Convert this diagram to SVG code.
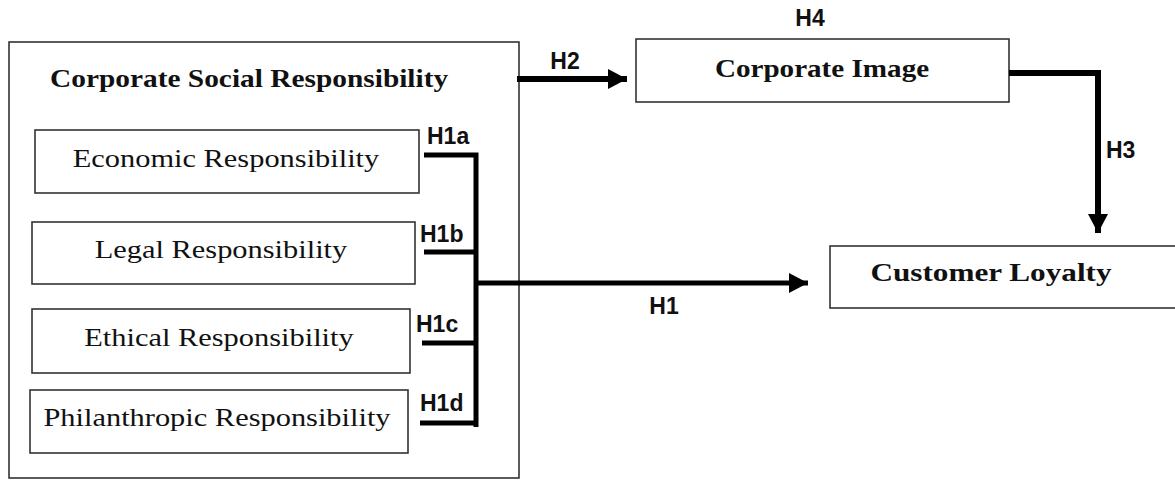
<svg xmlns="http://www.w3.org/2000/svg" width="1175" height="481" viewBox="0 0 1175 481">
<style>
.box{fill:#fff;stroke:#333;stroke-width:1.6}
.serif{font-family:"Liberation Serif","Times New Roman",serif;fill:#111;font-size:26px}
.b{font-weight:bold}
.lbl{font-family:"Liberation Sans",Arial,sans-serif;font-weight:bold;font-size:23px;fill:#111}
.thick{stroke:#000;stroke-width:5;fill:none}
</style>
<defs>
<marker id="ah" markerUnits="userSpaceOnUse" markerWidth="20" markerHeight="20" viewBox="0 0 20 20" refX="19" refY="10" orient="auto">
<path d="M0,0 L19,10 L0,20 Z" fill="#000"/>
</marker>
</defs>
<rect width="1175" height="481" fill="#fff"/>
<g id="csr">
<rect class="box" x="9" y="42" width="510" height="436"/>
<text class="serif b" transform="translate(50,87) scale(1.13,1)">Corporate Social Responsibility</text>
</g>
<g id="economic">
<rect class="box" x="35" y="130" width="384" height="63"/>
<text class="serif" transform="translate(226,167) scale(1.17,1)" text-anchor="middle">Economic Responsibility</text>
</g>
<g id="legal">
<rect class="box" x="32" y="222" width="383" height="62"/>
<text class="serif" transform="translate(221,258) scale(1.17,1)" text-anchor="middle">Legal Responsibility</text>
</g>
<g id="ethical">
<rect class="box" x="32" y="309" width="378" height="64"/>
<text class="serif" transform="translate(219,346) scale(1.17,1)" text-anchor="middle">Ethical Responsibility</text>
</g>
<g id="philanthropic">
<rect class="box" x="30" y="390" width="378" height="63"/>
<text class="serif" transform="translate(217,426) scale(1.17,1)" text-anchor="middle">Philanthropic Responsibility</text>
</g>
<g id="corporate-image">
<rect class="box" x="636" y="39" width="373" height="63"/>
<text class="serif b" transform="translate(822,77) scale(1.12,1)" text-anchor="middle">Corporate Image</text>
</g>
<g id="customer-loyalty">
<rect class="box" x="830" y="246" width="360" height="62"/>
<text class="serif b" transform="translate(991,281) scale(1.2,1)" text-anchor="middle">Customer Loyalty</text>
</g>
<g id="connectors">
<path class="thick" d="M424,155 H476 V427"/>
<path class="thick" d="M424,252 H476"/>
<path class="thick" d="M422,343 H476"/>
<path class="thick" d="M420,423 H476"/>
<path d="M476,283 H808" stroke="#000" stroke-width="5" fill="none" marker-end="url(#ah)"/>
<path d="M517,79 H627" stroke="#000" stroke-width="6" fill="none" marker-end="url(#ah)"/>
<path d="M1009,73 H1098 V233" stroke="#000" stroke-width="6" fill="none" marker-end="url(#ah)"/>
<text class="lbl" x="427" y="144">H1a</text>
<text class="lbl" x="420" y="242">H1b</text>
<text class="lbl" x="416" y="332">H1c</text>
<text class="lbl" x="420" y="411">H1d</text>
<text class="lbl" x="664" y="314" text-anchor="middle">H1</text>
<text class="lbl" x="565" y="69" text-anchor="middle">H2</text>
<text class="lbl" x="1106" y="158">H3</text>
<text class="lbl" x="810" y="26" text-anchor="middle">H4</text>
</g>
</svg>
